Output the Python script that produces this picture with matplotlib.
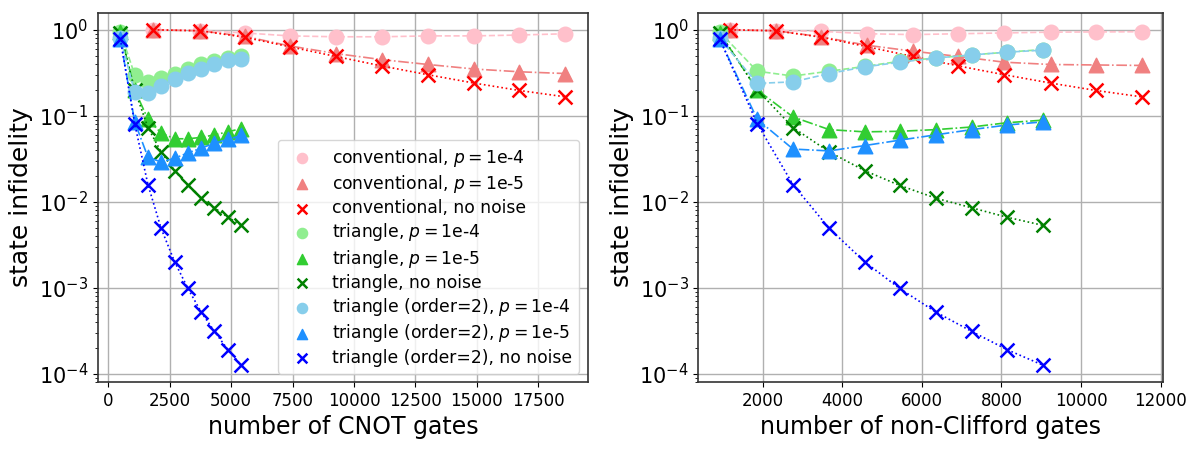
import numpy as np
import matplotlib
matplotlib.use('Agg')
import matplotlib.pyplot as plt

# x values (gate counts)
cnot_conv = [1835, 3750, 5550, 7380, 9260, 11130, 13010, 14890, 16720, 18600]
cnot_tri = [490, 1075, 1615, 2150, 2700, 3240, 3780, 4320, 4865, 5410]
nc_conv = [1175, 2330, 3475, 4630, 5770, 6917, 8073, 9240, 10377, 11525]
nc_tri = [913, 1860, 2760, 3670, 4560, 5440, 6350, 7250, 8140, 9050]

# noiseless curves (same in both panels)
conv_nonoise = [1.0, 0.975, 0.82, 0.635, 0.49, 0.38, 0.30, 0.24, 0.197, 0.166]
tri_nonoise = [0.93, 0.20, 0.073, 0.038, 0.023, 0.0155, 0.011, 0.0085, 0.0066, 0.0053]
tri2_nonoise = [0.79, 0.081, 0.0158, 0.0049, 0.0020, 0.00098, 0.00052, 0.00031, 0.00019, 0.000125]

# left panel, noisy
L_conv_p4 = [1.0, 0.98, 0.92, 0.85, 0.83, 0.83, 0.85, 0.85, 0.87, 0.90]
L_conv_p5 = [1.0, 0.975, 0.84, 0.65, 0.53, 0.45, 0.395, 0.35, 0.325, 0.31]
L_tri_p4 = [0.95, 0.30, 0.246, 0.277, 0.31, 0.35, 0.395, 0.43, 0.47, 0.50]
L_tri_p5 = [0.94, 0.20, 0.091, 0.063, 0.054, 0.054, 0.056, 0.060, 0.065, 0.071]
L_tri2_p4 = [0.80, 0.19, 0.185, 0.22, 0.27, 0.316, 0.35, 0.40, 0.44, 0.46]
L_tri2_p5 = [0.79, 0.085, 0.033, 0.029, 0.032, 0.037, 0.042, 0.048, 0.053, 0.059]

# right panel, noisy
R_conv_p4 = [1.0, 0.98, 0.96, 0.90, 0.88, 0.90, 0.92, 0.94, 0.945, 0.95]
R_conv_p5 = [1.0, 0.975, 0.83, 0.66, 0.565, 0.49, 0.42, 0.395, 0.39, 0.385]
R_tri_p4 = [0.95, 0.33, 0.29, 0.33, 0.375, 0.43, 0.47, 0.51, 0.55, 0.59]
R_tri_p5 = [0.93, 0.20, 0.097, 0.069, 0.065, 0.066, 0.069, 0.074, 0.083, 0.089]
R_tri2_p4 = [0.80, 0.238, 0.248, 0.31, 0.37, 0.42, 0.47, 0.51, 0.55, 0.58]
R_tri2_p5 = [0.79, 0.091, 0.041, 0.039, 0.045, 0.052, 0.060, 0.069, 0.078, 0.085]

labels = [r'conventional, $p=$1e-4', r'conventional, $p=$1e-5', 'conventional, no noise',
          r'triangle, $p=$1e-4', r'triangle, $p=$1e-5', 'triangle, no noise',
          r'triangle (order=2), $p=$1e-4', r'triangle (order=2), $p=$1e-5', 'triangle (order=2), no noise']
colors = ['pink', 'lightcoral', 'red', 'lightgreen', 'limegreen', 'green', 'skyblue', 'dodgerblue', 'blue']
markers = ['o', '^', 'x', 'o', '^', 'x', 'o', '^', 'x']
styles = ['--', '-.', ':', '--', '-.', ':', '--', '-.', ':']


def draw(ax, xc, xt, ys):
    xs = [xc, xc, xc, xt, xt, xt, xt, xt, xt]
    for i in range(9):
        ax.plot(xs[i], ys[i], styles[i], color=colors[i], lw=1.2, zorder=2 + i)
        if markers[i] == 'x':
            ax.scatter(xs[i], ys[i], s=100, marker='x', color=colors[i], linewidths=1.8,
                       label=labels[i], zorder=2 + i)
        else:
            ax.scatter(xs[i], ys[i], s=110, marker=markers[i], color=colors[i],
                       label=labels[i], zorder=2 + i)
    ax.set_yscale('log')
    ax.grid(True, color='#b0b0b0', lw=1)
    ax.set_axisbelow(True)
    ax.set_ylabel('state infidelity', fontsize=18)
    ax.tick_params(axis='y', labelsize=15)
    ax.tick_params(axis='x', labelsize=12)
    for sp in ax.spines.values():
        sp.set_linewidth(1.2)
        sp.set_color('#333333')


fig = plt.figure(figsize=(12, 4.5), dpi=100)
ax1 = fig.add_axes([0.0817, 0.151, 0.408, 0.82])
ax2 = fig.add_axes([0.582, 0.151, 0.387, 0.82])

draw(ax1, cnot_conv, cnot_tri,
     [L_conv_p4, L_conv_p5, conv_nonoise, L_tri_p4, L_tri_p5, tri_nonoise, L_tri2_p4, L_tri2_p5, tri2_nonoise])
draw(ax2, nc_conv, nc_tri,
     [R_conv_p4, R_conv_p5, conv_nonoise, R_tri_p4, R_tri_p5, tri_nonoise, R_tri2_p4, R_tri2_p5, tri2_nonoise])

ax1.set_xlabel('number of CNOT gates', fontsize=17)
ax2.set_xlabel('number of non-Clifford gates', fontsize=17)
ax1.legend(loc='lower right', fontsize=12.3, markerscale=0.7, labelspacing=0.25)

fig.savefig('out.png', dpi=100)
